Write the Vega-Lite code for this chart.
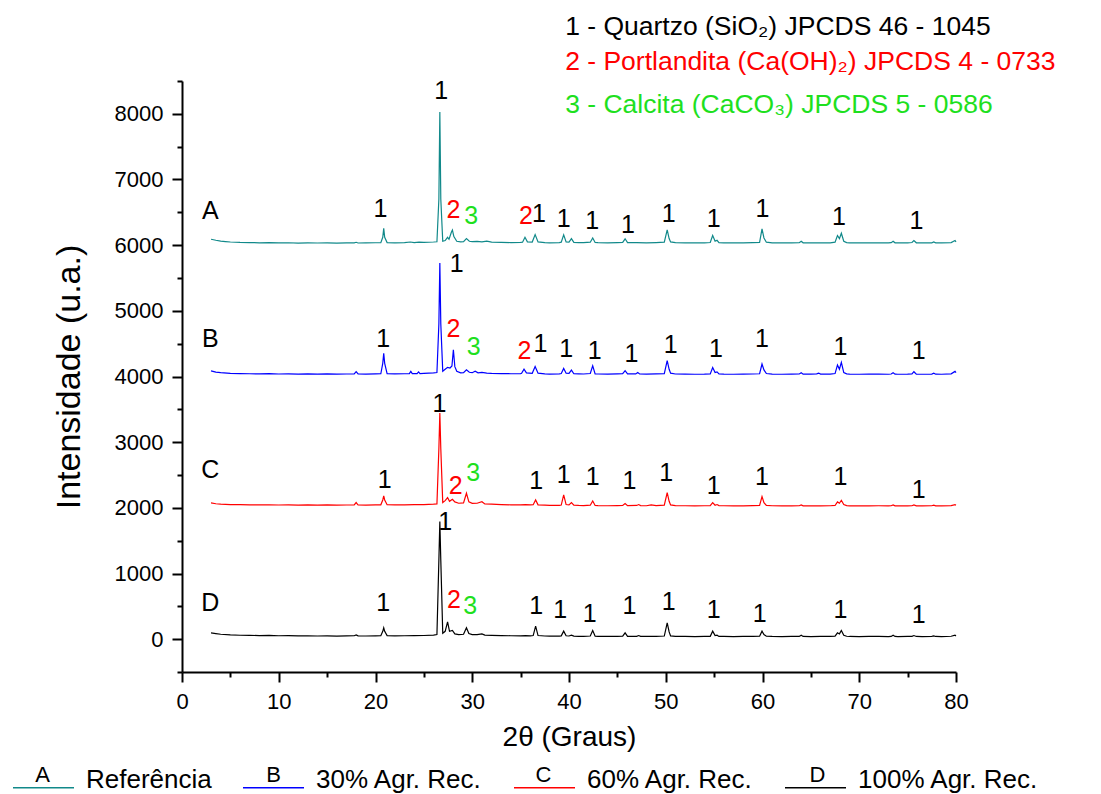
{
  "$schema": "https://vega.github.io/schema/vega-lite/v6.json",
  "width": 774,
  "height": 591,
  "autosize": "none",
  "padding": {"left": 182, "top": 81, "right": 145, "bottom": 122},
  "config": {
    "font": "Liberation Sans",
    "view": {"stroke": null},
    "axis": {"domainColor": "#000000", "domainWidth": 2, "tickColor": "#000000", "tickWidth": 2, "labelColor": "#000000", "titleColor": "#000000", "grid": false, "labelFontSize": 22, "titleFontSize": 27, "titleFontWeight": "normal", "labelFont": "Liberation Sans", "titleFont": "Liberation Sans", "labelOverlap": false}
  },
  "datasets": {
    "xrd": [
      {"s":"A","t":3,"v":6090},{"s":"A","t":3.5,"v":6075},{"s":"A","t":4,"v":6062},{"s":"A","t":4.5,"v":6055},{"s":"A","t":5,"v":6048},{"s":"A","t":6,"v":6042},{"s":"A","t":7,"v":6040},{"s":"A","t":8,"v":6036},{"s":"A","t":9,"v":6038},{"s":"A","t":10,"v":6034},{"s":"A","t":11,"v":6037},{"s":"A","t":12,"v":6032},{"s":"A","t":13,"v":6035},{"s":"A","t":14,"v":6033},{"s":"A","t":15,"v":6036},{"s":"A","t":16,"v":6030},{"s":"A","t":17,"v":6034},{"s":"A","t":17.8,"v":6036},{"s":"A","t":18,"v":6044},{"s":"A","t":18.2,"v":6033},{"s":"A","t":19,"v":6035},{"s":"A","t":20,"v":6037},{"s":"A","t":20.55,"v":6038},{"s":"A","t":20.75,"v":6120},{"s":"A","t":20.85,"v":6255},{"s":"A","t":20.95,"v":6120},{"s":"A","t":21.2,"v":6040},{"s":"A","t":22,"v":6036},{"s":"A","t":23,"v":6040},{"s":"A","t":23.6,"v":6048},{"s":"A","t":24,"v":6040},{"s":"A","t":24.5,"v":6046},{"s":"A","t":25,"v":6042},{"s":"A","t":26,"v":6048},{"s":"A","t":26.35,"v":6052},{"s":"A","t":26.55,"v":6700},{"s":"A","t":26.65,"v":8028},{"s":"A","t":26.75,"v":6700},{"s":"A","t":26.95,"v":6060},{"s":"A","t":27.2,"v":6070},{"s":"A","t":27.45,"v":6120},{"s":"A","t":27.6,"v":6090},{"s":"A","t":27.85,"v":6200},{"s":"A","t":27.95,"v":6230},{"s":"A","t":28.1,"v":6130},{"s":"A","t":28.4,"v":6060},{"s":"A","t":28.8,"v":6050},{"s":"A","t":29.1,"v":6055},{"s":"A","t":29.4,"v":6100},{"s":"A","t":29.7,"v":6060},{"s":"A","t":30,"v":6055},{"s":"A","t":30.5,"v":6058},{"s":"A","t":31,"v":6050},{"s":"A","t":31.5,"v":6060},{"s":"A","t":32,"v":6045},{"s":"A","t":33,"v":6042},{"s":"A","t":34,"v":6040},{"s":"A","t":35,"v":6042},{"s":"A","t":35.2,"v":6045},{"s":"A","t":35.45,"v":6120},{"s":"A","t":35.7,"v":6050},{"s":"A","t":36.2,"v":6048},{"s":"A","t":36.5,"v":6162},{"s":"A","t":36.8,"v":6050},{"s":"A","t":37.5,"v":6040},{"s":"A","t":38,"v":6036},{"s":"A","t":39,"v":6040},{"s":"A","t":39.2,"v":6045},{"s":"A","t":39.45,"v":6158},{"s":"A","t":39.7,"v":6050},{"s":"A","t":40,"v":6048},{"s":"A","t":40.25,"v":6100},{"s":"A","t":40.5,"v":6042},{"s":"A","t":41,"v":6040},{"s":"A","t":41.5,"v":6038},{"s":"A","t":42.2,"v":6045},{"s":"A","t":42.45,"v":6110},{"s":"A","t":42.7,"v":6040},{"s":"A","t":43,"v":6038},{"s":"A","t":44,"v":6036},{"s":"A","t":45,"v":6040},{"s":"A","t":45.55,"v":6042},{"s":"A","t":45.8,"v":6097},{"s":"A","t":46.05,"v":6040},{"s":"A","t":47,"v":6038},{"s":"A","t":48,"v":6036},{"s":"A","t":49,"v":6040},{"s":"A","t":49.85,"v":6045},{"s":"A","t":50.15,"v":6234},{"s":"A","t":50.35,"v":6100},{"s":"A","t":50.5,"v":6050},{"s":"A","t":51,"v":6038},{"s":"A","t":52,"v":6035},{"s":"A","t":53,"v":6034},{"s":"A","t":54,"v":6036},{"s":"A","t":54.6,"v":6040},{"s":"A","t":54.85,"v":6147},{"s":"A","t":55.1,"v":6060},{"s":"A","t":55.3,"v":6075},{"s":"A","t":55.5,"v":6040},{"s":"A","t":56,"v":6036},{"s":"A","t":57,"v":6034},{"s":"A","t":58,"v":6035},{"s":"A","t":59,"v":6038},{"s":"A","t":59.7,"v":6042},{"s":"A","t":59.95,"v":6249},{"s":"A","t":60.15,"v":6110},{"s":"A","t":60.4,"v":6045},{"s":"A","t":61,"v":6036},{"s":"A","t":62,"v":6034},{"s":"A","t":63,"v":6035},{"s":"A","t":63.8,"v":6038},{"s":"A","t":64,"v":6060},{"s":"A","t":64.2,"v":6036},{"s":"A","t":65,"v":6035},{"s":"A","t":66,"v":6034},{"s":"A","t":67,"v":6036},{"s":"A","t":67.5,"v":6045},{"s":"A","t":67.75,"v":6147},{"s":"A","t":67.95,"v":6100},{"s":"A","t":68.15,"v":6182},{"s":"A","t":68.4,"v":6060},{"s":"A","t":68.7,"v":6040},{"s":"A","t":69,"v":6036},{"s":"A","t":70,"v":6034},{"s":"A","t":71,"v":6035},{"s":"A","t":72,"v":6036},{"s":"A","t":73,"v":6034},{"s":"A","t":73.3,"v":6038},{"s":"A","t":73.5,"v":6060},{"s":"A","t":73.7,"v":6036},{"s":"A","t":74,"v":6034},{"s":"A","t":75,"v":6035},{"s":"A","t":75.45,"v":6040},{"s":"A","t":75.65,"v":6070},{"s":"A","t":75.9,"v":6036},{"s":"A","t":76.5,"v":6034},{"s":"A","t":77.5,"v":6036},{"s":"A","t":77.7,"v":6048},{"s":"A","t":77.9,"v":6035},{"s":"A","t":78.5,"v":6034},{"s":"A","t":79.5,"v":6040},{"s":"A","t":79.9,"v":6070},{"s":"A","t":80,"v":6050},

      {"s":"B","t":3,"v":4085},{"s":"B","t":3.5,"v":4068},{"s":"B","t":4,"v":4058},{"s":"B","t":5,"v":4048},{"s":"B","t":6,"v":4045},{"s":"B","t":7,"v":4042},{"s":"B","t":8,"v":4040},{"s":"B","t":9,"v":4043},{"s":"B","t":10,"v":4038},{"s":"B","t":11,"v":4041},{"s":"B","t":12,"v":4036},{"s":"B","t":13,"v":4039},{"s":"B","t":14,"v":4037},{"s":"B","t":15,"v":4040},{"s":"B","t":16,"v":4035},{"s":"B","t":17,"v":4038},{"s":"B","t":17.8,"v":4040},{"s":"B","t":18,"v":4075},{"s":"B","t":18.2,"v":4040},{"s":"B","t":19,"v":4037},{"s":"B","t":20,"v":4040},{"s":"B","t":20.55,"v":4042},{"s":"B","t":20.75,"v":4200},{"s":"B","t":20.85,"v":4352},{"s":"B","t":20.95,"v":4200},{"s":"B","t":21.2,"v":4045},{"s":"B","t":22,"v":4040},{"s":"B","t":23,"v":4042},{"s":"B","t":23.5,"v":4045},{"s":"B","t":23.65,"v":4078},{"s":"B","t":23.8,"v":4045},{"s":"B","t":24.3,"v":4045},{"s":"B","t":24.45,"v":4070},{"s":"B","t":24.6,"v":4045},{"s":"B","t":25,"v":4048},{"s":"B","t":26,"v":4055},{"s":"B","t":26.35,"v":4060},{"s":"B","t":26.55,"v":4800},{"s":"B","t":26.65,"v":5730},{"s":"B","t":26.75,"v":4800},{"s":"B","t":26.95,"v":4080},{"s":"B","t":27.2,"v":4110},{"s":"B","t":27.45,"v":4140},{"s":"B","t":27.7,"v":4130},{"s":"B","t":27.9,"v":4160},{"s":"B","t":28.05,"v":4408},{"s":"B","t":28.2,"v":4150},{"s":"B","t":28.4,"v":4080},{"s":"B","t":28.8,"v":4055},{"s":"B","t":29.1,"v":4058},{"s":"B","t":29.4,"v":4103},{"s":"B","t":29.7,"v":4065},{"s":"B","t":30,"v":4058},{"s":"B","t":30.3,"v":4080},{"s":"B","t":30.6,"v":4055},{"s":"B","t":31,"v":4062},{"s":"B","t":31.5,"v":4052},{"s":"B","t":32,"v":4048},{"s":"B","t":33,"v":4045},{"s":"B","t":34,"v":4042},{"s":"B","t":35,"v":4044},{"s":"B","t":35.1,"v":4048},{"s":"B","t":35.35,"v":4113},{"s":"B","t":35.6,"v":4055},{"s":"B","t":36.2,"v":4048},{"s":"B","t":36.5,"v":4153},{"s":"B","t":36.8,"v":4050},{"s":"B","t":37.5,"v":4040},{"s":"B","t":38,"v":4036},{"s":"B","t":39,"v":4040},{"s":"B","t":39.2,"v":4045},{"s":"B","t":39.45,"v":4123},{"s":"B","t":39.7,"v":4050},{"s":"B","t":40,"v":4048},{"s":"B","t":40.25,"v":4098},{"s":"B","t":40.5,"v":4042},{"s":"B","t":41,"v":4040},{"s":"B","t":41.5,"v":4038},{"s":"B","t":42.2,"v":4045},{"s":"B","t":42.45,"v":4164},{"s":"B","t":42.7,"v":4040},{"s":"B","t":43,"v":4038},{"s":"B","t":44,"v":4036},{"s":"B","t":45,"v":4040},{"s":"B","t":45.55,"v":4042},{"s":"B","t":45.8,"v":4088},{"s":"B","t":46.05,"v":4040},{"s":"B","t":46.9,"v":4040},{"s":"B","t":47.1,"v":4060},{"s":"B","t":47.3,"v":4038},{"s":"B","t":48,"v":4036},{"s":"B","t":49,"v":4040},{"s":"B","t":49.85,"v":4045},{"s":"B","t":50.15,"v":4240},{"s":"B","t":50.35,"v":4110},{"s":"B","t":50.5,"v":4050},{"s":"B","t":51,"v":4038},{"s":"B","t":52,"v":4035},{"s":"B","t":53,"v":4034},{"s":"B","t":54,"v":4036},{"s":"B","t":54.6,"v":4040},{"s":"B","t":54.85,"v":4138},{"s":"B","t":55.1,"v":4060},{"s":"B","t":55.3,"v":4070},{"s":"B","t":55.5,"v":4040},{"s":"B","t":56,"v":4036},{"s":"B","t":57,"v":4034},{"s":"B","t":58,"v":4035},{"s":"B","t":59,"v":4038},{"s":"B","t":59.7,"v":4042},{"s":"B","t":59.95,"v":4190},{"s":"B","t":60.15,"v":4100},{"s":"B","t":60.4,"v":4045},{"s":"B","t":61,"v":4036},{"s":"B","t":62,"v":4034},{"s":"B","t":63,"v":4035},{"s":"B","t":63.8,"v":4038},{"s":"B","t":64,"v":4057},{"s":"B","t":64.2,"v":4036},{"s":"B","t":65,"v":4035},{"s":"B","t":65.6,"v":4040},{"s":"B","t":65.8,"v":4052},{"s":"B","t":66,"v":4036},{"s":"B","t":67,"v":4036},{"s":"B","t":67.5,"v":4045},{"s":"B","t":67.75,"v":4174},{"s":"B","t":67.95,"v":4110},{"s":"B","t":68.15,"v":4215},{"s":"B","t":68.4,"v":4060},{"s":"B","t":68.7,"v":4040},{"s":"B","t":69,"v":4036},{"s":"B","t":70,"v":4034},{"s":"B","t":71,"v":4035},{"s":"B","t":72,"v":4036},{"s":"B","t":73,"v":4034},{"s":"B","t":73.3,"v":4038},{"s":"B","t":73.5,"v":4057},{"s":"B","t":73.7,"v":4036},{"s":"B","t":74,"v":4034},{"s":"B","t":75,"v":4035},{"s":"B","t":75.45,"v":4040},{"s":"B","t":75.65,"v":4073},{"s":"B","t":75.9,"v":4036},{"s":"B","t":76.5,"v":4034},{"s":"B","t":77.5,"v":4036},{"s":"B","t":77.7,"v":4050},{"s":"B","t":77.9,"v":4035},{"s":"B","t":78.5,"v":4034},{"s":"B","t":79.5,"v":4040},{"s":"B","t":79.9,"v":4078},{"s":"B","t":80,"v":4060},

      {"s":"C","t":3,"v":2075},{"s":"C","t":3.5,"v":2062},{"s":"C","t":4,"v":2055},{"s":"C","t":5,"v":2050},{"s":"C","t":6,"v":2048},{"s":"C","t":7,"v":2046},{"s":"C","t":8,"v":2044},{"s":"C","t":9,"v":2047},{"s":"C","t":10,"v":2043},{"s":"C","t":11,"v":2046},{"s":"C","t":12,"v":2041},{"s":"C","t":13,"v":2044},{"s":"C","t":14,"v":2042},{"s":"C","t":15,"v":2045},{"s":"C","t":16,"v":2040},{"s":"C","t":17,"v":2043},{"s":"C","t":17.8,"v":2044},{"s":"C","t":18,"v":2080},{"s":"C","t":18.2,"v":2043},{"s":"C","t":19,"v":2041},{"s":"C","t":20,"v":2044},{"s":"C","t":20.55,"v":2046},{"s":"C","t":20.75,"v":2120},{"s":"C","t":20.85,"v":2181},{"s":"C","t":20.95,"v":2120},{"s":"C","t":21.2,"v":2048},{"s":"C","t":22,"v":2044},{"s":"C","t":23,"v":2046},{"s":"C","t":24,"v":2048},{"s":"C","t":25,"v":2050},{"s":"C","t":26,"v":2056},{"s":"C","t":26.35,"v":2060},{"s":"C","t":26.55,"v":2900},{"s":"C","t":26.65,"v":3443},{"s":"C","t":26.75,"v":2900},{"s":"C","t":26.95,"v":2080},{"s":"C","t":27.2,"v":2110},{"s":"C","t":27.45,"v":2156},{"s":"C","t":27.65,"v":2100},{"s":"C","t":27.95,"v":2131},{"s":"C","t":28.2,"v":2090},{"s":"C","t":28.6,"v":2070},{"s":"C","t":29.1,"v":2075},{"s":"C","t":29.4,"v":2222},{"s":"C","t":29.65,"v":2090},{"s":"C","t":30,"v":2068},{"s":"C","t":30.5,"v":2070},{"s":"C","t":31,"v":2094},{"s":"C","t":31.3,"v":2060},{"s":"C","t":32,"v":2055},{"s":"C","t":33,"v":2050},{"s":"C","t":34,"v":2046},{"s":"C","t":35,"v":2044},{"s":"C","t":35.5,"v":2050},{"s":"C","t":36,"v":2045},{"s":"C","t":36.3,"v":2048},{"s":"C","t":36.55,"v":2120},{"s":"C","t":36.8,"v":2045},{"s":"C","t":37.5,"v":2040},{"s":"C","t":38,"v":2036},{"s":"C","t":39,"v":2038},{"s":"C","t":39.2,"v":2042},{"s":"C","t":39.45,"v":2197},{"s":"C","t":39.7,"v":2050},{"s":"C","t":40,"v":2045},{"s":"C","t":40.25,"v":2080},{"s":"C","t":40.5,"v":2040},{"s":"C","t":41,"v":2036},{"s":"C","t":41.5,"v":2034},{"s":"C","t":42.2,"v":2040},{"s":"C","t":42.45,"v":2105},{"s":"C","t":42.7,"v":2036},{"s":"C","t":43,"v":2034},{"s":"C","t":44,"v":2032},{"s":"C","t":45,"v":2035},{"s":"C","t":45.55,"v":2036},{"s":"C","t":45.8,"v":2065},{"s":"C","t":46.05,"v":2034},{"s":"C","t":47,"v":2036},{"s":"C","t":47.2,"v":2050},{"s":"C","t":47.4,"v":2034},{"s":"C","t":48,"v":2032},{"s":"C","t":48.5,"v":2045},{"s":"C","t":49,"v":2034},{"s":"C","t":49.85,"v":2040},{"s":"C","t":50.15,"v":2232},{"s":"C","t":50.35,"v":2100},{"s":"C","t":50.5,"v":2045},{"s":"C","t":51,"v":2034},{"s":"C","t":52,"v":2032},{"s":"C","t":53,"v":2030},{"s":"C","t":54,"v":2032},{"s":"C","t":54.6,"v":2034},{"s":"C","t":54.85,"v":2080},{"s":"C","t":55.1,"v":2040},{"s":"C","t":55.3,"v":2050},{"s":"C","t":55.5,"v":2034},{"s":"C","t":56,"v":2032},{"s":"C","t":57,"v":2030},{"s":"C","t":58,"v":2031},{"s":"C","t":59,"v":2033},{"s":"C","t":59.7,"v":2036},{"s":"C","t":59.95,"v":2171},{"s":"C","t":60.15,"v":2080},{"s":"C","t":60.4,"v":2038},{"s":"C","t":61,"v":2032},{"s":"C","t":62,"v":2030},{"s":"C","t":63,"v":2031},{"s":"C","t":63.8,"v":2032},{"s":"C","t":64,"v":2045},{"s":"C","t":64.2,"v":2031},{"s":"C","t":65,"v":2030},{"s":"C","t":66,"v":2031},{"s":"C","t":67,"v":2032},{"s":"C","t":67.5,"v":2036},{"s":"C","t":67.75,"v":2090},{"s":"C","t":67.95,"v":2070},{"s":"C","t":68.15,"v":2115},{"s":"C","t":68.4,"v":2050},{"s":"C","t":68.7,"v":2034},{"s":"C","t":69,"v":2031},{"s":"C","t":70,"v":2030},{"s":"C","t":71,"v":2031},{"s":"C","t":72,"v":2032},{"s":"C","t":73,"v":2030},{"s":"C","t":73.3,"v":2032},{"s":"C","t":73.5,"v":2045},{"s":"C","t":73.7,"v":2031},{"s":"C","t":74,"v":2030},{"s":"C","t":75,"v":2031},{"s":"C","t":75.45,"v":2032},{"s":"C","t":75.65,"v":2045},{"s":"C","t":75.9,"v":2031},{"s":"C","t":76.5,"v":2030},{"s":"C","t":77.5,"v":2032},{"s":"C","t":77.7,"v":2040},{"s":"C","t":77.9,"v":2031},{"s":"C","t":78.5,"v":2030},{"s":"C","t":79.5,"v":2034},{"s":"C","t":79.9,"v":2048},{"s":"C","t":80,"v":2040},

      {"s":"D","t":3,"v":95},{"s":"D","t":3.5,"v":85},{"s":"D","t":4,"v":75},{"s":"D","t":5,"v":65},{"s":"D","t":6,"v":60},{"s":"D","t":7,"v":58},{"s":"D","t":8,"v":55},{"s":"D","t":9,"v":57},{"s":"D","t":10,"v":52},{"s":"D","t":11,"v":54},{"s":"D","t":12,"v":50},{"s":"D","t":13,"v":52},{"s":"D","t":14,"v":48},{"s":"D","t":15,"v":51},{"s":"D","t":16,"v":47},{"s":"D","t":17,"v":50},{"s":"D","t":17.8,"v":52},{"s":"D","t":18,"v":65},{"s":"D","t":18.2,"v":50},{"s":"D","t":19,"v":48},{"s":"D","t":20,"v":50},{"s":"D","t":20.55,"v":52},{"s":"D","t":20.75,"v":120},{"s":"D","t":20.85,"v":173},{"s":"D","t":20.95,"v":120},{"s":"D","t":21.2,"v":54},{"s":"D","t":22,"v":50},{"s":"D","t":23,"v":52},{"s":"D","t":24,"v":54},{"s":"D","t":25,"v":56},{"s":"D","t":26,"v":62},{"s":"D","t":26.35,"v":70},{"s":"D","t":26.55,"v":1200},{"s":"D","t":26.65,"v":1790},{"s":"D","t":26.75,"v":1200},{"s":"D","t":26.95,"v":90},{"s":"D","t":27.2,"v":120},{"s":"D","t":27.45,"v":264},{"s":"D","t":27.65,"v":120},{"s":"D","t":27.95,"v":132},{"s":"D","t":28.2,"v":80},{"s":"D","t":28.6,"v":70},{"s":"D","t":29.1,"v":75},{"s":"D","t":29.4,"v":173},{"s":"D","t":29.65,"v":85},{"s":"D","t":30,"v":70},{"s":"D","t":30.5,"v":68},{"s":"D","t":31,"v":81},{"s":"D","t":31.3,"v":62},{"s":"D","t":32,"v":58},{"s":"D","t":33,"v":55},{"s":"D","t":34,"v":52},{"s":"D","t":35,"v":50},{"s":"D","t":35.5,"v":55},{"s":"D","t":36,"v":50},{"s":"D","t":36.3,"v":55},{"s":"D","t":36.55,"v":198},{"s":"D","t":36.8,"v":55},{"s":"D","t":37.5,"v":48},{"s":"D","t":38,"v":45},{"s":"D","t":39,"v":47},{"s":"D","t":39.2,"v":50},{"s":"D","t":39.45,"v":122},{"s":"D","t":39.7,"v":52},{"s":"D","t":40,"v":48},{"s":"D","t":40.25,"v":61},{"s":"D","t":40.5,"v":46},{"s":"D","t":41,"v":44},{"s":"D","t":41.5,"v":43},{"s":"D","t":42.2,"v":48},{"s":"D","t":42.45,"v":132},{"s":"D","t":42.7,"v":45},{"s":"D","t":43,"v":43},{"s":"D","t":44,"v":42},{"s":"D","t":45,"v":44},{"s":"D","t":45.55,"v":45},{"s":"D","t":45.8,"v":97},{"s":"D","t":46.05,"v":43},{"s":"D","t":47,"v":42},{"s":"D","t":47.2,"v":55},{"s":"D","t":47.4,"v":42},{"s":"D","t":48,"v":41},{"s":"D","t":49,"v":43},{"s":"D","t":49.85,"v":48},{"s":"D","t":50.15,"v":249},{"s":"D","t":50.35,"v":110},{"s":"D","t":50.5,"v":50},{"s":"D","t":51,"v":42},{"s":"D","t":52,"v":41},{"s":"D","t":53,"v":40},{"s":"D","t":54,"v":41},{"s":"D","t":54.6,"v":43},{"s":"D","t":54.85,"v":122},{"s":"D","t":55.1,"v":55},{"s":"D","t":55.3,"v":60},{"s":"D","t":55.5,"v":42},{"s":"D","t":56,"v":41},{"s":"D","t":57,"v":40},{"s":"D","t":58,"v":41},{"s":"D","t":59,"v":42},{"s":"D","t":59.7,"v":44},{"s":"D","t":59.95,"v":122},{"s":"D","t":60.15,"v":70},{"s":"D","t":60.4,"v":44},{"s":"D","t":61,"v":41},{"s":"D","t":62,"v":40},{"s":"D","t":63,"v":41},{"s":"D","t":63.8,"v":42},{"s":"D","t":64,"v":61},{"s":"D","t":64.2,"v":41},{"s":"D","t":65,"v":40},{"s":"D","t":66,"v":41},{"s":"D","t":67,"v":42},{"s":"D","t":67.5,"v":45},{"s":"D","t":67.75,"v":97},{"s":"D","t":67.95,"v":80},{"s":"D","t":68.15,"v":132},{"s":"D","t":68.4,"v":60},{"s":"D","t":68.7,"v":44},{"s":"D","t":69,"v":41},{"s":"D","t":70,"v":40},{"s":"D","t":71,"v":41},{"s":"D","t":72,"v":42},{"s":"D","t":73,"v":40},{"s":"D","t":73.3,"v":42},{"s":"D","t":73.5,"v":61},{"s":"D","t":73.7,"v":41},{"s":"D","t":74,"v":40},{"s":"D","t":75,"v":41},{"s":"D","t":75.45,"v":42},{"s":"D","t":75.65,"v":55},{"s":"D","t":75.9,"v":41},{"s":"D","t":76.5,"v":40},{"s":"D","t":77.5,"v":42},{"s":"D","t":77.7,"v":50},{"s":"D","t":77.9,"v":41},{"s":"D","t":78.5,"v":40},{"s":"D","t":79.5,"v":44},{"s":"D","t":79.9,"v":60},{"s":"D","t":80,"v":50}
    ],
    "marks": [
      {"t":2.93,"v":6392,"txt":"A","k":"s"},{"t":20.5,"v":6422,"txt":"1","k":"1"},{"t":26.8,"v":8222,"txt":"1","k":"1"},{"t":28.05,"v":6407,"txt":"2","k":"2"},{"t":29.9,"v":6315,"txt":"3","k":"3"},{"t":35.55,"v":6315,"txt":"2","k":"2"},{"t":36.9,"v":6350,"txt":"1","k":"1"},{"t":39.45,"v":6274,"txt":"1","k":"1"},{"t":42.4,"v":6249,"txt":"1","k":"1"},{"t":46.1,"v":6183,"txt":"1","k":"1"},{"t":50.3,"v":6350,"txt":"1","k":"1"},{"t":54.95,"v":6274,"txt":"1","k":"1"},{"t":60.0,"v":6427,"txt":"1","k":"1"},{"t":67.9,"v":6300,"txt":"1","k":"1"},{"t":75.9,"v":6249,"txt":"1","k":"1"},
      {"t":2.93,"v":4454,"txt":"B","k":"s"},{"t":20.8,"v":4443,"txt":"1","k":"1"},{"t":28.4,"v":5588,"txt":"1","k":"1"},{"t":28.07,"v":4596,"txt":"2","k":"2"},{"t":30.15,"v":4332,"txt":"3","k":"3"},{"t":35.4,"v":4267,"txt":"2","k":"2"},{"t":37.05,"v":4367,"txt":"1","k":"1"},{"t":39.7,"v":4302,"txt":"1","k":"1"},{"t":42.65,"v":4267,"txt":"1","k":"1"},{"t":46.45,"v":4215,"txt":"1","k":"1"},{"t":50.5,"v":4358,"txt":"1","k":"1"},{"t":55.2,"v":4302,"txt":"1","k":"1"},{"t":59.95,"v":4454,"txt":"1","k":"1"},{"t":68.05,"v":4332,"txt":"1","k":"1"},{"t":76.15,"v":4267,"txt":"1","k":"1"},
      {"t":2.93,"v":2461,"txt":"C","k":"s"},{"t":20.95,"v":2298,"txt":"1","k":"1"},{"t":26.6,"v":3452,"txt":"1","k":"1"},{"t":28.3,"v":2207,"txt":"2","k":"2"},{"t":30.1,"v":2410,"txt":"3","k":"3"},{"t":36.6,"v":2283,"txt":"1","k":"1"},{"t":39.45,"v":2374,"txt":"1","k":"1"},{"t":42.45,"v":2344,"txt":"1","k":"1"},{"t":46.25,"v":2283,"txt":"1","k":"1"},{"t":50.05,"v":2410,"txt":"1","k":"1"},{"t":54.95,"v":2207,"txt":"1","k":"1"},{"t":59.95,"v":2349,"txt":"1","k":"1"},{"t":68.05,"v":2349,"txt":"1","k":"1"},{"t":76.15,"v":2146,"txt":"1","k":"1"},
      {"t":2.93,"v":427,"txt":"D","k":"s"},{"t":20.8,"v":427,"txt":"1","k":"1"},{"t":27.2,"v":1658,"txt":"1","k":"1"},{"t":28.1,"v":478,"txt":"2","k":"2"},{"t":29.8,"v":376,"txt":"3","k":"3"},{"t":36.6,"v":376,"txt":"1","k":"1"},{"t":39.1,"v":315,"txt":"1","k":"1"},{"t":42.15,"v":264,"txt":"1","k":"1"},{"t":46.25,"v":376,"txt":"1","k":"1"},{"t":50.3,"v":437,"txt":"1","k":"1"},{"t":54.95,"v":315,"txt":"1","k":"1"},{"t":59.7,"v":264,"txt":"1","k":"1"},{"t":68.05,"v":315,"txt":"1","k":"1"},{"t":76.15,"v":249,"txt":"1","k":"1"}
    ],
    "head": [
      {"t":39.6,"v":9198,"txt":"1 - Quartzo (SiO₂) JPCDS 46 - 1045","k":"1"},
      {"t":39.6,"v":8664,"txt":"2 - Portlandita (Ca(OH)₂) JPCDS 4 - 0733","k":"2"},
      {"t":39.6,"v":8008,"txt":"3 - Calcita (CaCO₃) JPCDS 5 - 0586","k":"3"}
    ]
  },
  "layer": [
    {
      "data": {"name": "xrd"},
      "mark": {"type": "line", "strokeWidth": 1.2},
      "encoding": {
        "x": {"field": "t", "type": "quantitative", "scale": {"domain": [0, 80], "nice": false, "zero": false},
          "axis": {"title": "2θ (Graus)", "values": [0,5,10,15,20,25,30,35,40,45,50,55,60,65,70,75,80], "labelExpr": "datum.value % 10 === 0 ? '' + datum.value : ''", "tickSize": {"condition": {"test": "datum.value % 10 === 0", "value": 10}, "value": 5}, "labelPadding": 9, "titlePadding": 11, "labelFlush": false, "titleFontSize": 28}},
        "y": {"field": "v", "type": "quantitative", "scale": {"domain": [-500, 8500], "nice": false, "zero": false},
          "axis": {"orient": "left", "title": "Intensidade (u.a.)", "values": [0,1000,2000,3000,4000,5000,6000,7000,8000], "labelExpr": "'' + datum.value", "tickSize": 10, "labelPadding": 9, "titlePadding": 28, "labelFlush": false, "titleFontSize": 34}},
        "color": {"field": "s", "type": "nominal", "scale": {"domain": ["A","B","C","D"], "range": ["#11898A","#0000FF","#FF0000","#000000"]},
          "legend": {"orient": "none", "legendX": -170, "legendY": 675, "direction": "horizontal", "title": null, "symbolType": "stroke", "symbolSize": 3721, "symbolStrokeWidth": 1.5, "labelFontSize": 26, "labelColor": "#000000", "labelOffset": 11, "labelLimit": 0, "labelBaseline": "alphabetic", "columnPadding": 28, "padding": 0,
            "labelExpr": "{'A':'Referência','B':'30% Agr. Rec.','C':'60% Agr. Rec.','D':'100% Agr. Rec.'}[datum.label]"}}
      }
    },
    {
      "data": {"name": "marks"},
      "transform": [{"filter": "datum.k === 's'"}],
      "mark": {"type": "point", "opacity": 0},
      "encoding": {
        "x": {"field": "t", "type": "quantitative"},
        "y": {"field": "v", "type": "quantitative",
          "axis": {"orient": "left", "title": null, "values": [-500,500,1500,2500,3500,4500,5500,6500,7500,8500], "labels": false, "domain": false, "tickSize": 5, "grid": false}},
        "shape": {"field": "txt", "type": "nominal",
          "scale": {"domain": ["A","B","C","D"], "range": [
            "M-1,0L-0.999,0M5.623,0L5.622,0",
            "M-1,0L-0.999,0M6.934,0L6.933,0",
            "M-1,0L-0.999,0M7.033,0L7.032,0",
            "M-1,0L-0.999,0M1,0L0.999,0"
          ]},
          "legend": {"orient": "none", "legendX": -170, "legendY": 675, "direction": "horizontal", "title": null, "symbolSize": 3721, "symbolStrokeWidth": 0, "symbolStrokeColor": "transparent", "symbolFillColor": "transparent", "labelFontSize": 22, "labelColor": "#000000", "labelAlign": "center", "labelBaseline": "bottom", "labelOffset": -30.5, "labelLimit": 0, "columnPadding": 28, "padding": 0}}
      }
    },
    {
      "data": {"name": "marks"},
      "mark": {"type": "text", "align": "center", "baseline": "alphabetic", "fontSize": 25},
      "encoding": {
        "x": {"field": "t", "type": "quantitative"},
        "y": {"field": "v", "type": "quantitative", "axis": null},
        "text": {"field": "txt"},
        "color": {"field": "k", "type": "nominal", "scale": {"domain": ["1","2","3","s"], "range": ["#000000","#FF0000","#1EE01E","#000000"]}, "legend": null}
      }
    },
    {
      "data": {"name": "head"},
      "mark": {"type": "text", "align": "left", "baseline": "alphabetic", "fontSize": 26.5},
      "encoding": {
        "x": {"field": "t", "type": "quantitative"},
        "y": {"field": "v", "type": "quantitative", "axis": null},
        "text": {"field": "txt"},
        "color": {"field": "k", "type": "nominal", "scale": {"domain": ["1","2","3"], "range": ["#000000","#FF0000","#1EE01E"]}, "legend": null}
      }
    }
  ],
  "resolve": {"scale": {"color": "independent"}, "axis": {"y": "independent"}}
}
